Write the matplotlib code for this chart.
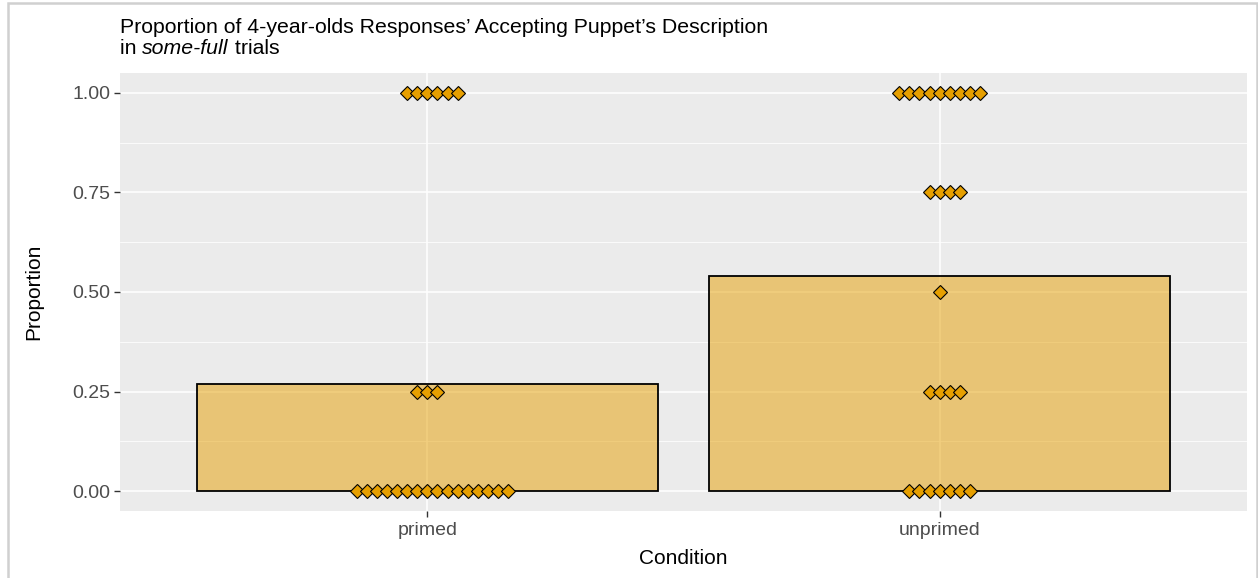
import numpy as np
import matplotlib
matplotlib.use("Agg")
from matplotlib import pyplot as plt
from matplotlib.patches import Rectangle

plt.rcParams['font.family'] = ['Liberation Sans', 'DejaVu Sans']

# data: proportion levels and number of children at each level
conditions = ['primed', 'unprimed']
levels = [0.00, 0.25, 0.50, 0.75, 1.00]
primed_counts = [16, 3, 0, 0, 6]
unprimed_counts = [7, 4, 1, 4, 9]

orange = '#E69F00'
panel_bg = '#EBEBEB'

fig = plt.figure(figsize=(12.58, 5.78), dpi=100)
ax = fig.add_axes([120/1258, 1-511/578, (1247-120)/1258, (511-73)/578])
ax.set_facecolor(panel_bg)
for s in ax.spines.values():
    s.set_visible(False)

ax.set_xlim(0.4, 2.6)
ax.set_ylim(-0.05, 1.05)
ax.set_yticks([0, 0.25, 0.5, 0.75, 1.0])
ax.set_yticks([0.125, 0.375, 0.625, 0.875], minor=True)
ax.set_yticklabels(['0.00', '0.25', '0.50', '0.75', '1.00'])
ax.set_xticks([1, 2])
ax.set_xticklabels(conditions)
ax.grid(True, which='major', color='white', lw=1.1)
ax.grid(True, which='minor', axis='y', color='white', lw=0.55)
ax.set_axisbelow(True)
ax.tick_params(which='major', length=4, width=1, color='#333333',
               labelcolor='#4D4D4D', labelsize=14, pad=3)
ax.tick_params(axis='x', pad=4)
ax.tick_params(which='minor', length=0)

spacing = 10.1 / 513  # horizontal distance between stacked dots, data units
for i, counts in enumerate([primed_counts, unprimed_counts]):
    xc = i + 1
    vals = np.repeat(levels, counts)
    ax.bar(xc, vals.mean(), width=0.9, color=orange, alpha=0.5, zorder=2)
    ax.bar(xc, vals.mean(), width=0.9, fill=False, edgecolor='black', lw=1.3, zorder=3)
    for lev, n in zip(levels, counts):
        if n == 0:
            continue
        offs = np.arange(n) - (n - 1) // 2
        ax.plot(xc + offs * spacing, np.full(n, lev), 'D', ms=7.2,
                mfc=orange, mec='black', mew=0.8, zorder=4, ls='none')

ax.set_xlabel('Condition', fontsize=15, labelpad=7)
ax.set_ylabel('Proportion', fontsize=15, labelpad=21)

x0 = 120/1258
fs = 15.3
fig.text(x0, 1-33/578, "Proportion of 4-year-olds Responses\u2019 Accepting Puppet\u2019s Description",
         fontsize=fs, va='baseline', ha='left')
t1 = fig.text(x0, 1-54/578, "in ", fontsize=fs, va='baseline', ha='left')
t2 = ax.annotate("some-full", xy=(1, 0), xycoords=t1, va='bottom', ha='left',
                 fontsize=fs, style='italic', annotation_clip=False)
ax.annotate(" trials", xy=(1, 0), xycoords=t2, va='bottom', ha='left',
            fontsize=fs, annotation_clip=False)

fig.patches.append(Rectangle((8/1258, -0.05), 1249/1258, 1.05-3/578, transform=fig.transFigure,
                             fill=False, edgecolor='#D0D0D0', lw=1.8))

fig.savefig('out.png', dpi=100)
